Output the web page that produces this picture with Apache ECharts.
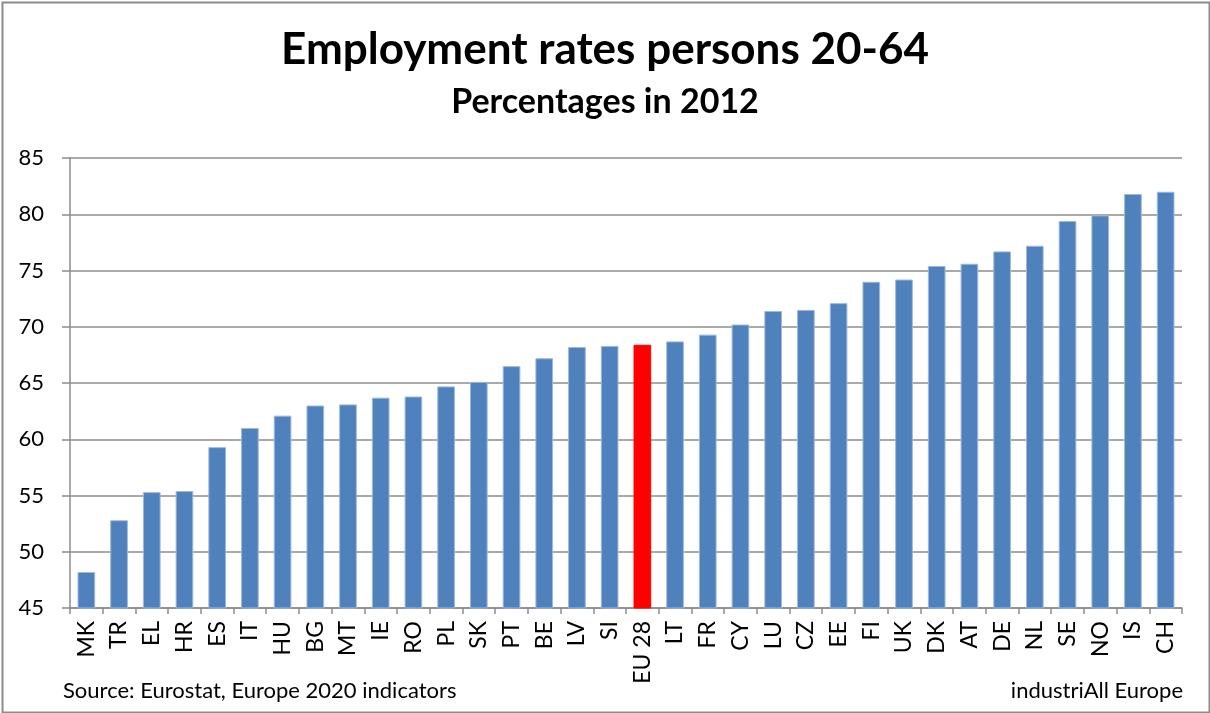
<!DOCTYPE html>
<html>
<head>
<meta charset="utf-8">
<title>Employment rates persons 20-64</title>
<script src="https://cdn.jsdelivr.net/npm/echarts@6/dist/echarts.min.js"></script>
<style>
  html, body { margin: 0; padding: 0; background: #fff; }
  #chart { width: 1210px; height: 713px; }
</style>
</head>
<body>
<div id="chart"></div>
<script>
// Employment rate of persons aged 20-64, 2012 (%)
const categories = ['MK','TR','EL','HR','ES','IT','HU','BG','MT','IE','RO','PL','SK','PT','BE','LV','SI',
  'EU 28','LT','FR','CY','LU','CZ','EE','FI','UK','DK','AT','DE','NL','SE','NO','IS','CH'];
const rates = [48.2, 52.8, 55.3, 55.4, 59.3, 61.0, 62.1, 63.0, 63.1, 63.7, 63.8, 64.7, 65.1, 66.5, 67.2, 68.2, 68.3,
  68.4, 68.7, 69.3, 70.2, 71.4, 71.5, 72.1, 74.0, 74.2, 75.4, 75.6, 76.7, 77.2, 79.4, 79.9, 81.8, 82.0];
const yTicks = [45, 50, 55, 60, 65, 70, 75, 80, 85];
const highlighted = 'EU 28';

const FONT = 'Lato, "Open Sans", sans-serif';
const BLUE = '#4F81BD';
const RED = '#FF0000';
const GRID = '#8c8c8c';

const chart = echarts.init(document.getElementById('chart'), null, { renderer: 'canvas' });

chart.setOption({
  backgroundColor: '#ffffff',
  animation: false,
  title: [
    {
      text: 'Employment rates persons 20-64',
      left: 'center', top: 23,
      textStyle: { fontFamily: FONT, fontWeight: 'bold', fontSize: 44, color: '#000' }
    },
    {
      text: 'Percentages in 2012',
      left: 'center', top: 80,
      textStyle: { fontFamily: FONT, fontWeight: 'bold', fontSize: 34, color: '#000' }
    }
  ],
  grid: { left: 70, right: 28, top: 158, bottom: 105, containLabel: false },
  xAxis: {
    type: 'category',
    data: categories,
    axisLine: { lineStyle: { color: GRID, width: 1.5 } },
    axisTick: { show: true, length: 6, lineStyle: { color: GRID, width: 1.5 } },
    axisLabel: {
      rotate: 90, interval: 0, margin: 13,
      fontFamily: FONT, fontSize: 23, color: '#000'
    }
  },
  yAxis: {
    type: 'value',
    min: yTicks[0], max: yTicks[yTicks.length - 1], interval: yTicks[1] - yTicks[0],
    axisLine: { show: true, lineStyle: { color: GRID, width: 1.5 } },
    axisTick: { show: true, length: 8, lineStyle: { color: GRID, width: 1.5 } },
    splitLine: { show: true, lineStyle: { color: GRID, width: 1.5 } },
    axisLabel: { fontFamily: FONT, fontSize: 22, color: '#000', margin: 26 }
  },
  series: [{
    type: 'bar',
    barCategoryGap: '46%',
    data: rates.map((v, i) => categories[i] === highlighted
      ? { value: v, itemStyle: { color: RED, borderColor: RED } }
      : v),
    itemStyle: { color: BLUE, borderColor: '#9db8dc', borderWidth: 1 }
  }],
  graphic: [
    {
      type: 'rect', left: 0, top: 0, silent: true,
      shape: { x: 1, y: 1, width: 1207, height: 710 },
      style: { fill: 'none', stroke: '#8c8c8c', lineWidth: 2 }
    },
    {
      type: 'text', left: 63, top: 680,
      style: { text: 'Source: Eurostat, Europe 2020 indicators', fontFamily: FONT, fontSize: 22, fill: '#000' }
    },
    {
      type: 'text', right: 27, top: 680,
      style: { text: 'industriAll Europe', fontFamily: FONT, fontSize: 22, fill: '#000' }
    }
  ]
});
</script>
</body>
</html>
